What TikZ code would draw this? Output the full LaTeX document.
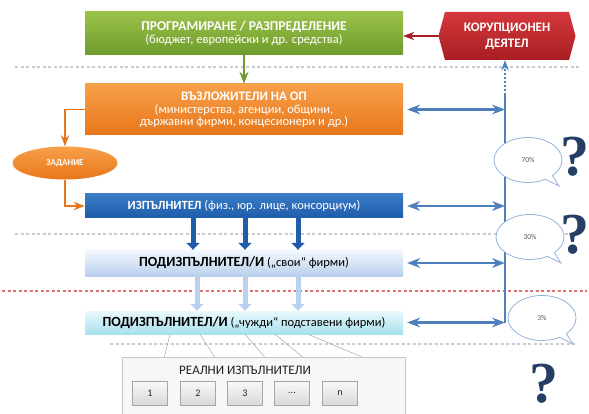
\documentclass[tikz,border=0pt]{standalone}
\usepackage{fontspec}
\setmainfont{Carlito}
\newfontfamily\qfont{Liberation Serif}
\usetikzlibrary{arrows.meta,shapes.geometric,shapes.symbols,shapes.callouts}
\definecolor{grntop}{HTML}{9BC24A}
\definecolor{grnbot}{HTML}{6E9B2C}
\definecolor{ortop}{HTML}{F7A04A}
\definecolor{orbot}{HTML}{E8761A}
\definecolor{bltop}{HTML}{3A7CC8}
\definecolor{blbot}{HTML}{1F5CAA}
\definecolor{lbtop}{HTML}{F4F8FD}
\definecolor{lbbot}{HTML}{B9D0EE}
\definecolor{cytop}{HTML}{EAF9FC}
\definecolor{cybot}{HTML}{A6E1EE}
\definecolor{redtop}{HTML}{D4383C}
\definecolor{redbot}{HTML}{A81E22}
\definecolor{railblue}{HTML}{4F7FBD}
\definecolor{qblue}{HTML}{243F63}
\definecolor{sepgrey}{HTML}{C8CCD2}
\definecolor{sepred}{HTML}{E07070}

\begin{document}
\begin{tikzpicture}[x=1pt,y=-1pt,>=Stealth,
  level/.style={minimum width=318pt,align=center,text=white,inner sep=1pt},
  sep/.style={sepgrey,line width=1.3pt,dash pattern=on 3pt off 2.5pt},
  sidearr/.style={<->,railblue,line width=2.2pt,shorten <=4pt},
  bigarr/.style={-{Triangle[length=7pt,width=13pt]},blbot,line width=5pt},
  palearr/.style={-{Triangle[length=7pt,width=13pt]},lbbot,line width=5pt},
  fan/.style={gray!60,line width=0.6pt},
  bubble/.style={ellipse callout,draw=railblue!60,fill=white,line width=0.8pt,
    minimum width=68pt,minimum height=45pt,font=\fontsize{7.5}{8}\selectfont,text=gray!70!black},
  qmark/.style={text=qblue,font=\qfont\bfseries\fontsize{58}{58}\selectfont,inner sep=0pt},
  numbox/.style={draw=gray!70,top color=gray!5,bottom color=gray!30,minimum width=35pt,
    minimum height=24pt,text=gray!30!black,font=\fontsize{10}{11}\selectfont}]
\useasboundingbox (0,0) rectangle (589,414);
% separators
\draw[sep] (15,67) -- (580,67);
\draw[sep] (15,234) -- (580,234);
\draw[sepred,line width=1.3pt,dash pattern=on 3pt off 2.5pt] (2,291) -- (587,291);
\draw[sep] (110,344) -- (575,344);
% main levels
\node[level,top color=grntop,bottom color=grnbot,minimum height=43pt](prog)at(244, 33.5){{\bfseries\fontsize{13.5}{15}\selectfont ПРОГРАМИРАНЕ / РАЗПРЕДЕЛЕНИЕ}\\[1pt]\fontsize{12.5}{14}\selectfont(бюджет, европейски и др. средства)};
\node[level,top color=ortop,bottom color=orbot,minimum height=51pt](vazl)at(244, 109.5){{\bfseries\fontsize{13}{15}\selectfont ВЪЗЛОЖИТЕЛИ НА ОП}\\[1pt]\fontsize{12.5}{13}\selectfont(министерства, агенции, общини,\\\fontsize{12.5}{13}\selectfont държавни фирми, концесионери и др.)};
\node[level,top color=bltop,bottom color=blbot,minimum height=24pt,font=\fontsize{12.5}{14}\selectfont](izp)at(244, 206){\textbf{ИЗПЪЛНИТЕЛ} (физ., юр. лице, консорциум)};
\node[level,top color=lbtop,bottom color=lbbot,minimum height=26pt,text=black,font=\fontsize{12.5}{14}\selectfont](pod1)at(244, 263){{\bfseries\fontsize{14}{15}\selectfont ПОДИЗПЪЛНИТЕЛ/И} („свои“ фирми)};
\node[level,top color=cytop,bottom color=cybot,minimum height=23pt,text=black,font=\fontsize{12.5}{14}\selectfont](pod2)at(244, 322.5){{\bfseries\fontsize{14}{15}\selectfont ПОДИЗПЪЛНИТЕЛ/И} („чужди“ подставени фирми)};
\node[signal,signal to=west and east,signal pointer angle=150,top color=redtop,bottom color=redbot,
  minimum width=137pt,minimum height=48pt,align=center,text=white,inner sep=1pt,
  font=\bfseries\fontsize{13}{16}\selectfont](korup)at(507, 36){КОРУПЦИОНЕН\\ДЕЯТЕЛ};
\node[ellipse,top color=ortop,bottom color=orbot,minimum width=105pt,minimum height=33pt,
  text=white,font=\bfseries\fontsize{9}{10}\selectfont](zad)at(65, 163){ЗАДАНИЕ};
% real performers
\node[draw=gray!45,fill=gray!6,minimum width=283pt,minimum height=57pt](real)at(263.5, 385.5){};
\node[text=gray!25!black,font=\fontsize{13}{14}\selectfont](realt)at(245, 370){РЕАЛНИ ИЗПЪЛНИТЕЛИ};
\node[numbox](n1)at(150, 393){1};
\node[numbox](n2)at(198, 393){2};
\node[numbox](n3)at(245, 393){3};
\node[numbox](n4)at(292, 393){...};
\node[numbox](n5)at(340, 393){n};
% flow
\draw[->,grnbot,line width=2pt] (prog) -- (vazl);
\draw[->,redbot,line width=1.8pt] (korup.west) -- (korup.west -| prog.east);
\draw[->,orbot,line width=1.8pt] (vazl.west) -| (zad.north);
\draw[->,orbot,line width=1.8pt] (zad.south) |- (izp.west);
\foreach \dx in {-51,1,54}
  \draw[bigarr] ([xshift=\dx pt]izp.south) -- ([xshift=\dx pt]pod1.north);
\foreach \dx in {-47,1,54}
  \draw[palearr] ([xshift=\dx pt]pod1.south) -- ([xshift=\dx pt]pod2.north);
% fan to real performers
\foreach \a/\b in {-74/-99,-44/-49,1/1,31/39,64/98}
  \draw[fan] ([xshift=\a pt]pod2.south) -- ([xshift=\b pt]real.north);
% control rail on the right
\coordinate (railtop) at (505, 95);
\coordinate (railbot) at (505, 322.5);
\draw[railblue,line width=2.2pt] (railtop) -- (railbot);
\draw[->,railblue,line width=1.6pt,dash pattern=on 2pt off 2pt] (railtop) -- (korup.south -| railtop);
\draw[sidearr] (vazl.east) -- (vazl.east -| railtop);
\draw[sidearr] (izp.east) -- (izp.east -| railtop);
\draw[sidearr] (pod1.east) -- (pod1.east -| railtop);
\draw[sidearr] (pod2.east) -- (railbot);
% shares
\node[bubble,callout absolute pointer={(559,186)}](b1)at(528, 160){70\%};
\node[bubble,callout absolute pointer={(561,263)}](b2)at(530, 237){30\%};
\node[bubble,callout absolute pointer={(573,344)}](b3)at(542, 318){3\%};
\node[qmark](q1)at(575, 157){?};
\node[qmark](q2)at(575, 235){?};
\node[qmark](q3)at(544, 384){?};
\end{tikzpicture}
\end{document}
